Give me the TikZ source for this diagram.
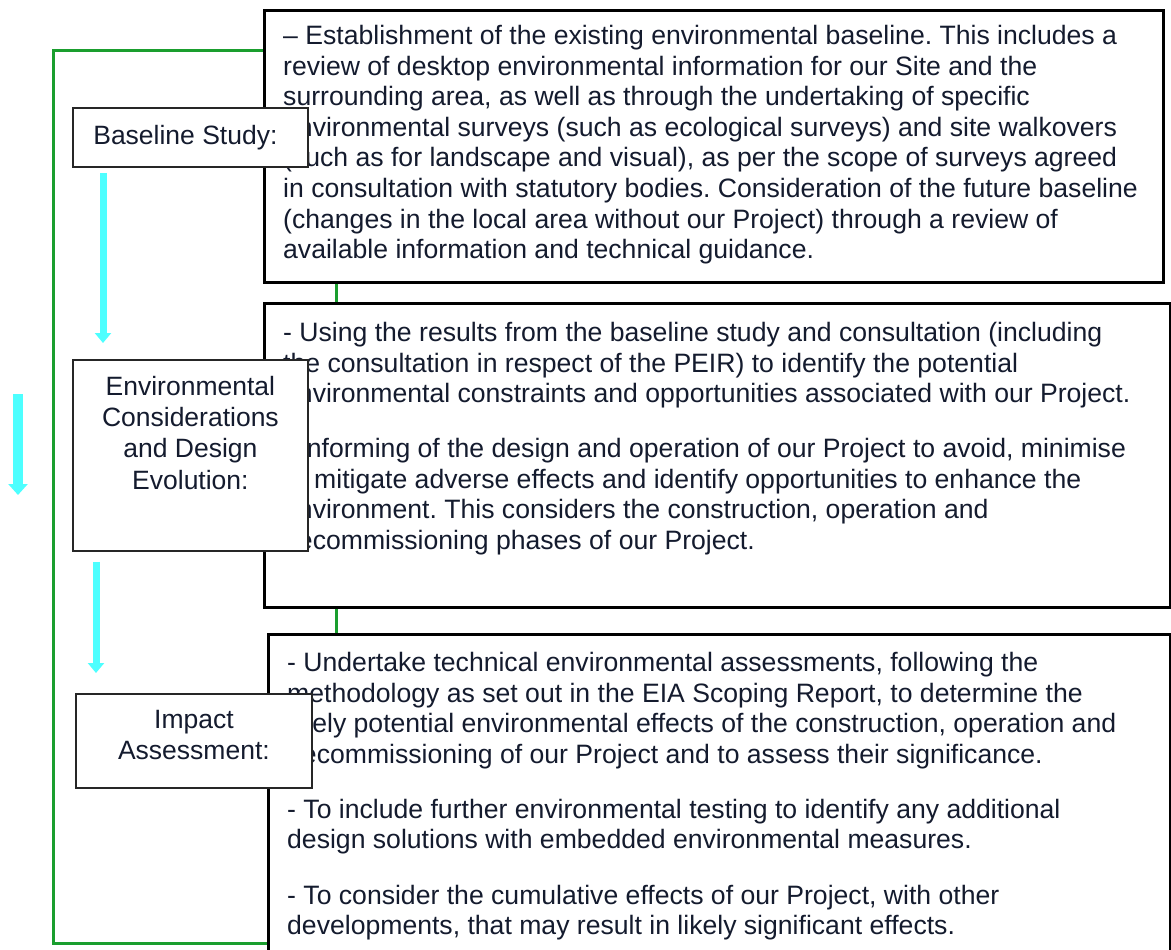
\documentclass[tikz,border=0pt]{standalone}
\usepackage{fontspec}
\setmainfont{Liberation Sans}
\usepackage{xcolor}
\usepackage{tikz}
\usetikzlibrary{arrows.meta, positioning, backgrounds}
\definecolor{ink}{HTML}{141B2E}
\definecolor{railgreen}{HTML}{1A9E2E}
\definecolor{flowcyan}{HTML}{4DFFFF}
\frenchspacing

\begin{document}
\begin{tikzpicture}[
    x=1pt, y=-1pt,
    panel/.style    = {rectangle, draw=black, line width=2.6pt, fill=white,
                       anchor=north west, inner sep=0pt},
    stage/.style    = {rectangle, draw=black!85, line width=1.8pt, fill=white,
                       anchor=north west, inner sep=0pt},
    note/.style     = {anchor=north west, inner sep=0pt, align=left, text=ink,
                       font=\fontsize{26.6}{30.6}\selectfont},
    stagetxt/.style = {inner sep=0pt, align=center, text=ink,
                       font=\fontsize{26.5}{31.2}\selectfont},
    flow/.style     = {draw=flowcyan, line width=7pt, -{Triangle[width=16pt,length=10pt]}},
    rail/.style     = {draw=railgreen, line width=3pt}
  ]
  \clip (0,0) rectangle (1171,950);

  % Description panels
  \node[panel, minimum width=899pt, minimum height=272pt] (basePanel)   at (263,9)   {};
  \node[panel, minimum width=906pt, minimum height=304pt] (designPanel) at (263,302) {};
  \node[panel, minimum width=902pt, minimum height=330pt] (impactPanel) at (267,633) {};

  \node[note, below right=16pt and 20pt of basePanel.north west] (baseNote)
    {– Establishment of the existing environmental baseline. This includes a\\
     review of desktop environmental information for our Site and the\\
     surrounding area, as well as through the undertaking of specific\\
     environmental surveys (such as ecological surveys) and site walkovers\\
     (such as for landscape and visual), as per the scope of surveys agreed\\
     in consultation with statutory bodies. Consideration of the future baseline\\
     (changes in the local area without our Project) through a review of\\
     available information and technical guidance.};
  \node[note, below right=20pt and 20pt of designPanel.north west] (designNote)
    {- Using the results from the baseline study and consultation (including\\
     the consultation in respect of the PEIR) to identify the potential\\
     environmental constraints and opportunities associated with our Project.\\[24.5pt]
     - Informing of the design and operation of our Project to avoid, minimise\\
     or mitigate adverse effects and identify opportunities to enhance the\\
     environment. This considers the construction, operation and\\
     decommissioning phases of our Project.};
  \node[note, below right=19pt and 20pt of impactPanel.north west] (impactNote)
    {- Undertake technical environmental assessments, following the\\
     methodology as set out in the EIA Scoping Report, to determine the\\
     likely potential environmental effects of the construction, operation and\\
     decommissioning of our Project and to assess their significance.\\[24.5pt]
     - To include further environmental testing to identify any additional\\
     design solutions with embedded environmental measures.\\[24.5pt]
     - To consider the cumulative effects of our Project, with other\\
     developments, that may result in likely significant effects.};

  % Stage boxes
  \node[stage, minimum width=235pt, minimum height=59pt]  (baseBox)   at (72,107) {};
  \node[stage, minimum width=235pt, minimum height=191pt] (designBox) at (72,359) {};
  \node[stage, minimum width=236pt, minimum height=94pt]  (impactBox) at (75,693) {};

  \node[stagetxt, xshift=-5pt] (baseLbl) at (baseBox.center) {Baseline Study:};
  \node[stagetxt, below=17pt of designBox.north] (designLbl)
    {Environmental\\Considerations\\and Design\\Evolution:};
  \node[stagetxt, yshift=6pt] (impactLbl) at (impactBox.center) {Impact\\Assessment:};

  % Flow arrows
  \draw[flow] ([xshift=31pt,yshift=-5pt]baseBox.south west)
           -- ([xshift=31pt,yshift=16pt]designBox.north west);
  \draw[flow] ([xshift=24pt,yshift=-10pt]designBox.south west)
           -- ([xshift=21pt,yshift=20pt]impactBox.north west);
  \coordinate (sideTop) at (18,394);
  \coordinate (sideEnd) at (18,495);
  \draw[flow, line width=10pt, -{Triangle[width=19pt,length=11pt]}] (sideTop) -- (sideEnd);

  % Green rails behind the panels
  \coordinate (railTop) at (53,51);
  \coordinate (railBot) at (53,943);
  \coordinate (spine)   at (336,0);
  \begin{scope}[on background layer]
    \fill[white] (0,0) rectangle (1171,950);
    \draw[rail] (impactPanel.west |- railBot) -- (railBot) -- (railTop)
             -- (basePanel.west |- railTop);
    \draw[rail] (basePanel.south -| spine) -- (designPanel.north -| spine);
    \draw[rail] (designPanel.south -| spine) -- (impactPanel.north -| spine);
  \end{scope}
\end{tikzpicture}
\end{document}
